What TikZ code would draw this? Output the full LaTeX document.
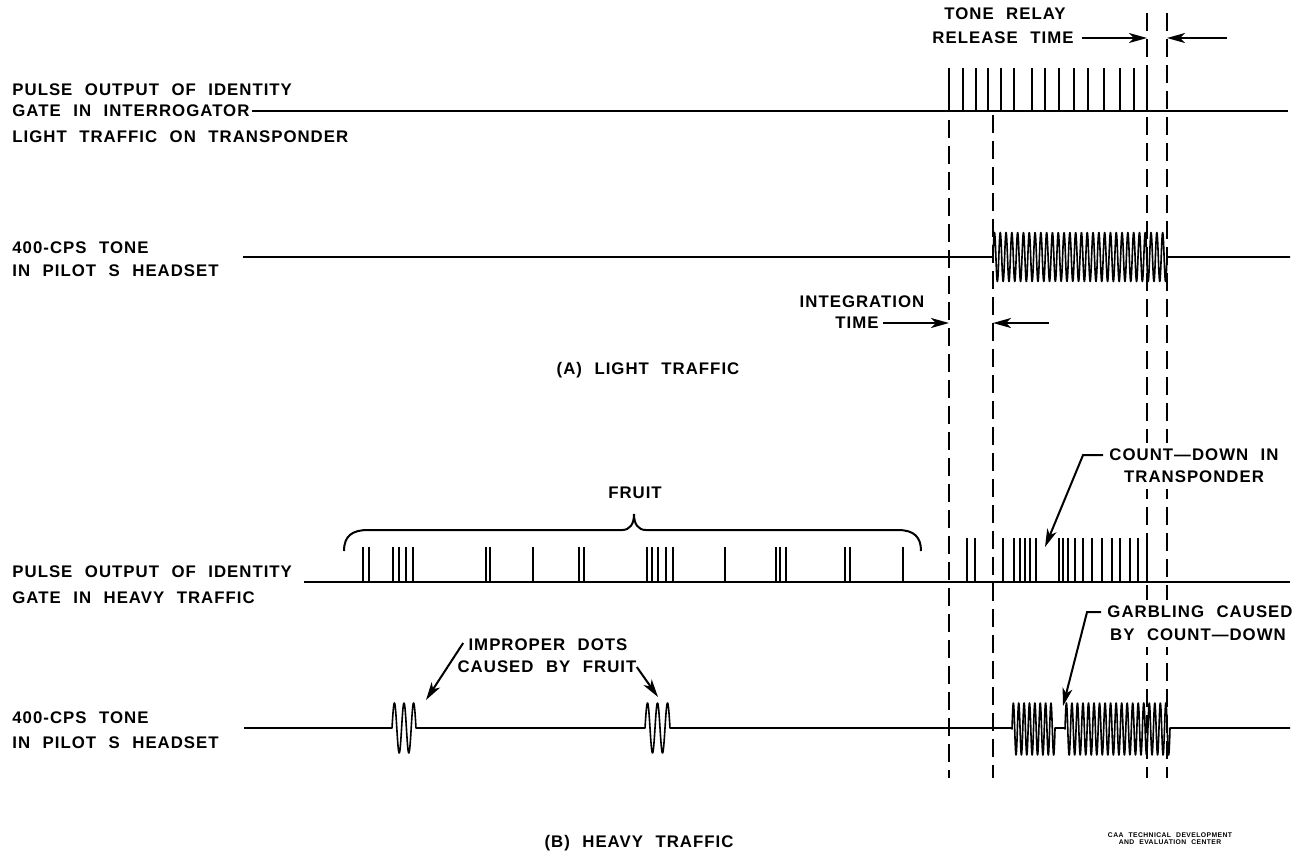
\documentclass[tikz,border=0pt]{standalone}
\usepackage{fontspec}
\setmainfont{Liberation Sans}[LetterSpace=6,WordSpace=2.2]
\usetikzlibrary{arrows.meta}

\begin{document}
\begin{tikzpicture}[x=0.5pt,y=-0.5pt,
  txt/.style={font=\bfseries\fontsize{8.4}{10}\selectfont,inner sep=0pt},
  lbl/.style={txt,anchor=west},
  note/.style={txt,fill=white,inner sep=3pt},
  sig/.style={line width=1pt},
  pulse/.style={line width=1.2pt},
  tone/.style={line width=0.8pt,line join=round},
  gate/.style={line width=1pt,dash pattern=on 9pt off 4pt},
  ptr/.style={line width=1pt,-{Stealth[length=9pt,width=5pt,inset=2.5pt]}}]

\useasboundingbox (0,0) rectangle (1301,853);

% Gate marks
\coordinate (g1t) at (949,68);   \coordinate (g1b) at (949,778);
\coordinate (g2t) at (993,115);  \coordinate (g2b) at (993,778);
\coordinate (g3t) at (1147,13);  \coordinate (g3b) at (1147,778);
\coordinate (g4t) at (1167,13);  \coordinate (g4b) at (1167,778);
\foreach \g in {1,...,4}
  \draw[gate] (g\g t) -- (g\g b);

% (A) Labels
\node[lbl] (pulseA1) at (12,90) {PULSE OUTPUT OF IDENTITY};
\node[lbl] (pulseA2) at (12,111) {GATE IN INTERROGATOR};
\node[lbl] (pulseA3) at (12,137) {LIGHT TRAFFIC ON TRANSPONDER};
\node[lbl] (toneA1) at (12,248) {400-CPS TONE};
\node[lbl] (toneA2) at (12,271) {IN PILOT S HEADSET};

% (A) Pulse train
\coordinate (endA) at (1288,111);
\draw[sig] (pulseA2.east) ++(2,0) -- (endA);
\foreach \x in {949,963,976,988,1001,1014,1032,1045,1059,1074,1088,1104,1120,1134,1147}
  \draw[pulse] (\x,111) -- (\x,68);

% (A) Tone
\draw[tone] (243,257) -- (993,257)
  -- plot[domain=0:1,samples=600] ({993+174*\x},{257-24.5*sin(30*360*\x)})
  -- (1167,257) -- (1290,257);

% Tone relay release time
\node[txt] (relay1) at (1005,14) {TONE RELAY};
\node[txt] (relay2) at (1003,38) {RELEASE TIME};
\draw[ptr] (relay2.east) ++(8,0) -- (relay2.east -| g3t);
\coordinate (relayR) at (1227,38);
\draw[ptr] (relayR) -- (relayR -| g4t);

% Integration time
\node[txt] (integ1) at (862,302) {INTEGRATION};
\node[txt] (integ2) at (857,323) {TIME};
\draw[ptr] (integ2.east) ++(4,0) -- (integ2.east -| g1t);
\coordinate (integR) at (1049,323);
\draw[ptr] (integR) -- (integR -| g2t);

\node[txt] (capA) at (648,370) {(A) LIGHT TRAFFIC};

% (B) Labels
\node[lbl] (pulseB1) at (12,572) {PULSE OUTPUT OF IDENTITY};
\node[lbl] (pulseB2) at (12,598) {GATE IN HEAVY TRAFFIC};
\node[lbl] (toneB1) at (12,718) {400-CPS TONE};
\node[lbl] (toneB2) at (12,743) {IN PILOT S HEADSET};

% (B) Pulse train
\draw[sig] (304,582) -- (1290,582);
\foreach \x in {363,369,393,399,406,413,486,490,533,579,584,647,652,658,666,673,725,776,780,786,845,850,903}
  \draw[pulse] (\x,582) -- (\x,547);
\foreach \x in {967,975,1003,1014,1020,1025,1030,1036,1059,1063,1068,1075,1083,1092,1102,1112,1120,1130,1138,1147}
  \draw[pulse] (\x,582) -- (\x,538);

% Fruit brace
\draw[sig] (344,551) .. controls (344,536) and (352,530) .. (368,530) -- (622,530)
  .. controls (630,530) and (634,524) .. (634,514)
  .. controls (634,524) and (638,530) .. (646,530) -- (898,530)
  .. controls (914,530) and (921,537) .. (921,551);
\node[txt] (fruit) at (635,493) {FRUIT};

% Count-down
\node[note] (count1) at (1194,455) {COUNT—DOWN IN};
\node[note] (count2) at (1194,477) {TRANSPONDER};
\coordinate (countTip) at (1045,547);
\draw[ptr] (count1.west) -- ++(-20,0) -- (countTip);

% (B) Tone
\draw[tone] (244,728) -- (392,728)
  -- plot[domain=0:1,samples=80] ({392+24*\x},{728-25*sin(2.5*360*\x)}) -- (416,728) -- (645,728)
  -- plot[domain=0:1,samples=80] ({645+25*\x},{728-25*sin(2.5*360*\x)}) -- (670,728) -- (1012,728)
  -- plot[domain=0:1,samples=200] ({1012+43*\x},{729-26*sin(8*360*\x)}) -- (1055,728) -- (1065,728)
  -- plot[domain=0:1,samples=450] ({1065+105*\x},{729-26*sin(19*360*\x)})
  -- (1170,728) -- (1290,728);

% Improper dots
\node[txt] (dots1) at (548,645) {IMPROPER DOTS};
\node[txt] (dots2) at (547,667) {CAUSED BY FRUIT};
\coordinate (dotTipA) at (426,700);
\coordinate (dotTipB) at (658,697);
\draw[ptr] (dots1.west) ++(-5,-2) -- (dotTipA);
\draw[ptr] (dots2.east) -- (dotTipB);

% Garbling
\node[note] (garb1) at (1200,612) {GARBLING CAUSED};
\node[note] (garb2) at (1198,635) {BY COUNT—DOWN};
\coordinate (garbTip) at (1063,706);
\draw[ptr] (garb1.west) -- ++(-14,0) -- (garbTip);

\node[txt] (capB) at (639,843) {(B) HEAVY TRAFFIC};
\node[font=\bfseries\fontsize{3.4}{3.6}\selectfont,inner sep=0pt,align=center] (credit) at (1170,839)
  {CAA TECHNICAL DEVELOPMENT\\AND EVALUATION CENTER};

\end{tikzpicture}
\end{document}
